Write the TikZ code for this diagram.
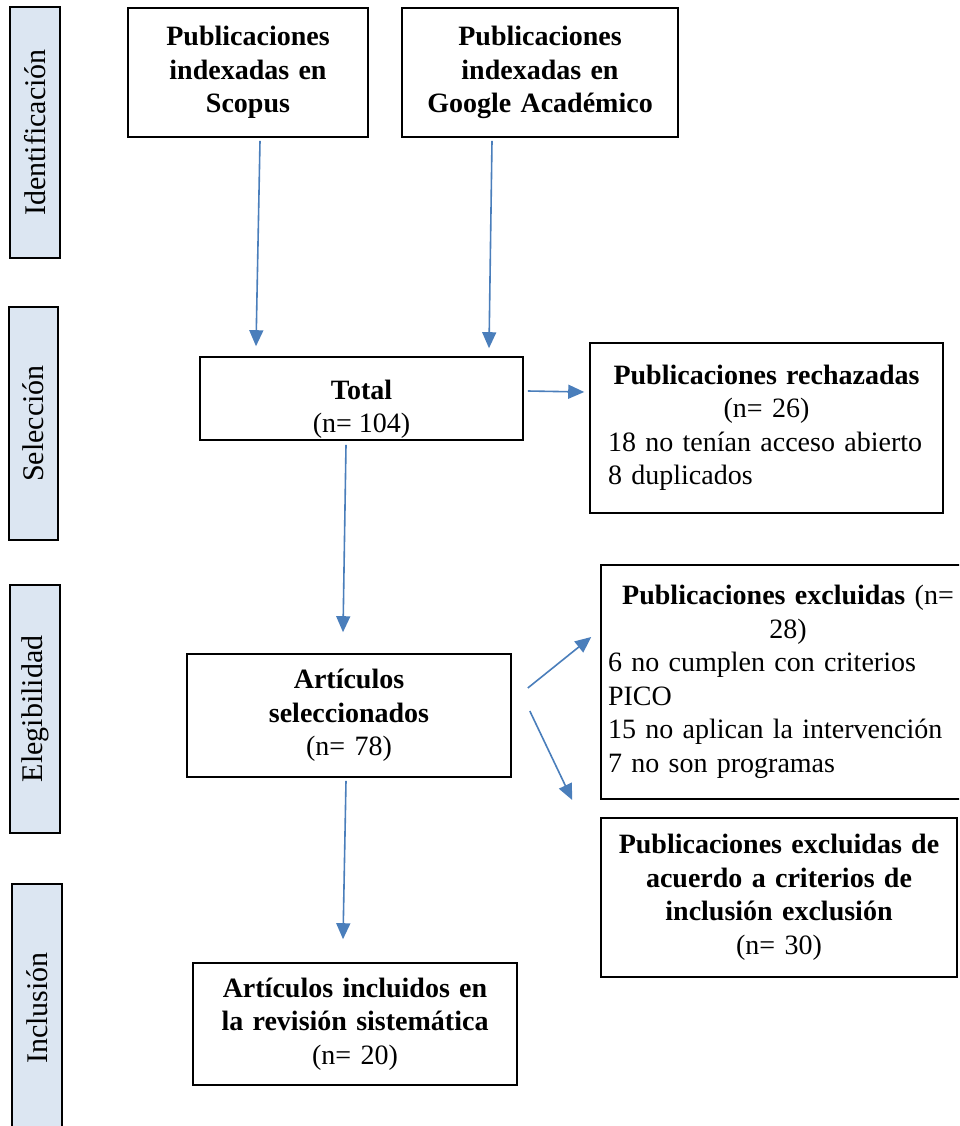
\documentclass[tikz,border=0pt]{standalone}
\usepackage{fontspec}
\setmainfont{Liberation Serif}
\usetikzlibrary{arrows.meta}
\definecolor{arrblue}{RGB}{74,126,187}
\definecolor{sidefill}{RGB}{220,230,242}
\setlength{\parindent}{0pt}
\begin{document}
\begin{tikzpicture}[x=1pt,y=-1pt,
  txt/.style={font=\fontsize{28}{33.5}\selectfont},
  frame/.style={draw=black, line width=1.6pt, inner sep=0pt, txt},
  box/.style={frame, align=center},
  side/.style={draw=black, line width=1.4pt, fill=sidefill, inner sep=0pt, font=\fontsize{30}{34}\selectfont, rotate=90},
  arr/.style={draw=arrblue, line width=1.6pt, -{Triangle[length=16pt,width=14pt]}}
]
\clip (0,0) rectangle (959,1126);
\fill[white] (0,0) rectangle (959,1126);

% side labels
\node[side, minimum width=251pt, minimum height=50pt] (sI) at (35,132.5) {Identificación};
\node[side, minimum width=233pt, minimum height=49pt] (sS) at (33.5,423.5) {Selección};
\node[side, minimum width=248pt, minimum height=50pt] (sE) at (35,709) {Elegibilidad};
\node[side, minimum width=248pt, minimum height=50pt] (sN) at (37,1008) {Inclusión};

% boxes
\node[box, minimum width=240pt, minimum height=129pt, text width=230pt] (scopus) at (248,72.5)
  {\textbf{Publicaciones}\\\textbf{indexadas en}\\\textbf{Scopus}\\[-6pt]};
\node[box, minimum width=276pt, minimum height=129pt, text width=266pt] (google) at (540,72.5)
  {\textbf{Publicaciones}\\\textbf{indexadas en}\\\textbf{Google Académico}\\[-6pt]};

\node[frame, minimum width=323pt, minimum height=83pt] (total) at (361.5,398.5) {};
\begin{scope}
  \clip ([xshift=0.8pt,yshift=0.8pt]total.south west) rectangle ([xshift=-0.8pt,yshift=-0.8pt]total.north east);
  \node[txt, align=center, inner sep=0pt] (totaltxt) at ([yshift=-11pt]total.center) {\textbf{Total}\\(n= 104)};
\end{scope}

\node[frame, minimum width=353pt, minimum height=170pt, text width=317pt] (rech) at (766.5,428)
  {{\centering\textbf{Publicaciones rechazadas}\\(n= 26)\par}{\raggedright 18 no tenían acceso abierto\\8 duplicados\par}\vspace{10pt}};

\node[box, minimum width=324pt, minimum height=123pt, text width=300pt] (sel) at (349,715.5)
  {\textbf{Artículos}\\\textbf{seleccionados}\\(n= 78)};

\node[frame, minimum width=374pt, minimum height=234pt, text width=360pt] (excl) at (788,682)
  {{\centering\textbf{Publicaciones excluidas} (n=\\28)\par}{\raggedright 6 no cumplen con criterios\\PICO\\15 no aplican la intervención\\7 no son programas\par}\vspace{8pt}};

\node[box, minimum width=356pt, minimum height=159pt, text width=340pt] (crit) at (779,897.5)
  {\textbf{Publicaciones excluidas de}\\\textbf{acuerdo a criterios de}\\\textbf{inclusión exclusión}\\(n= 30)};

\node[box, minimum width=324pt, minimum height=122pt, text width=310pt] (incl) at (355,1024)
  {\textbf{Artículos incluidos en}\\\textbf{la revisión sistemática}\\(n= 20)};

% arrows
\draw[arr] ([xshift=12pt,yshift=-3pt]scopus.south) -- ([xshift=-105.5pt,yshift=10pt]total.north);
\draw[arr] ([xshift=-48pt,yshift=-3pt]google.south) -- ([xshift=127.5pt,yshift=8pt]total.north);
\draw[arr] ([xshift=4pt,yshift=7.5pt]total.east) -- ([xshift=-5pt,yshift=36pt]rech.west);
\draw[arr] ([xshift=-15.5pt,yshift=-4pt]total.south) -- ([xshift=-6pt,yshift=21pt]sel.north);
\draw[arr] ([xshift=16pt,yshift=27.5pt]sel.east) -- ([xshift=-9pt,yshift=45pt]excl.west);
\draw[arr] ([xshift=18pt,yshift=4.5pt]sel.east) -- ([xshift=-28pt,yshift=97.5pt]crit.west);
\draw[arr] ([xshift=-3pt,yshift=-3pt]sel.south) -- ([xshift=-12pt,yshift=23pt]incl.north);
\end{tikzpicture}
\end{document}
